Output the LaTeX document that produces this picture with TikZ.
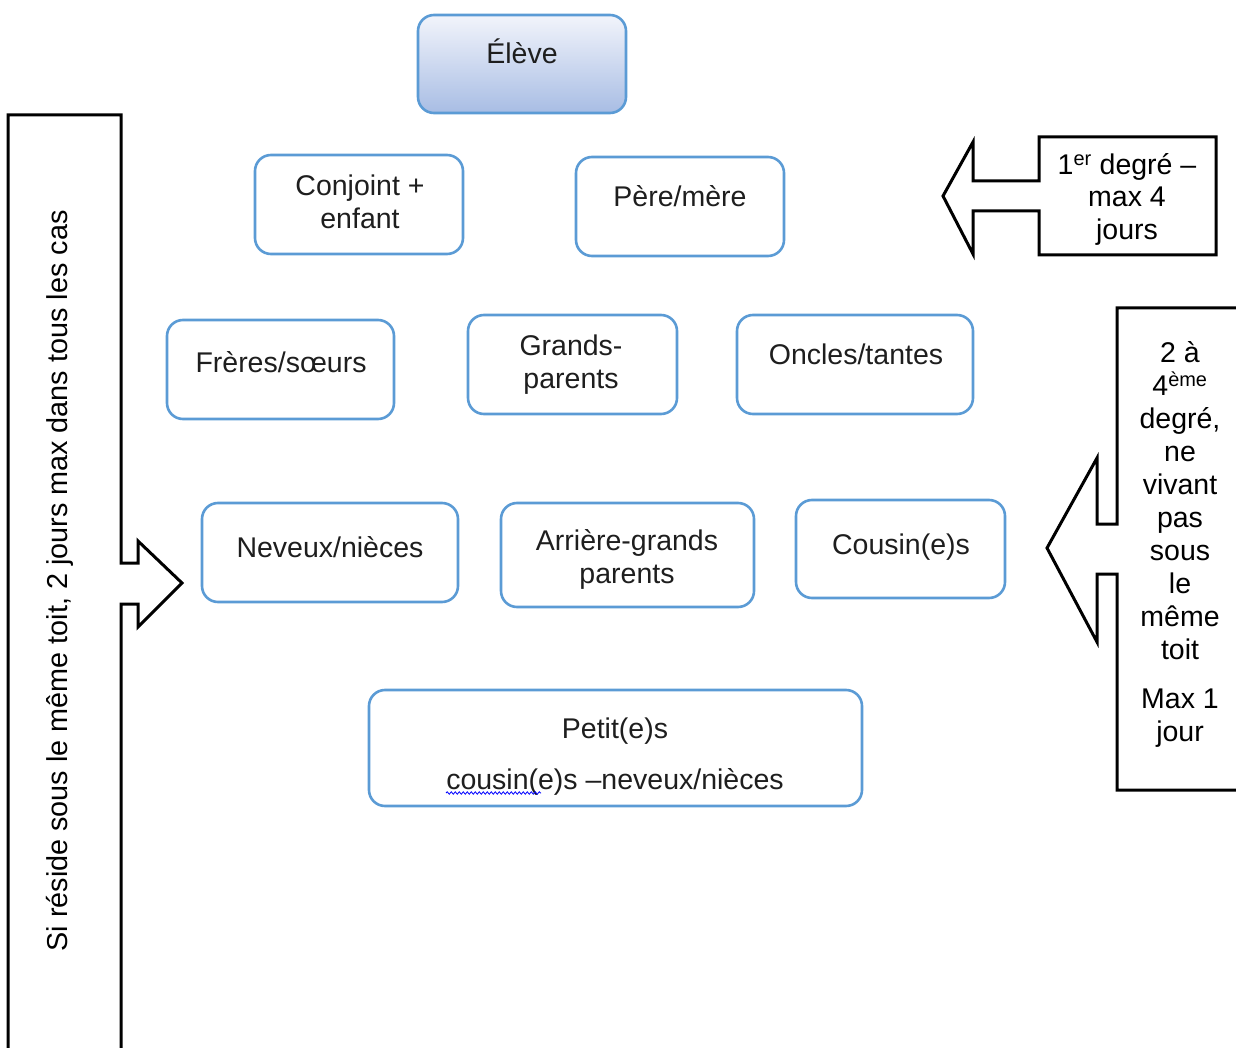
\documentclass[tikz,border=0pt]{standalone}
\usepackage{fontspec}
\setmainfont{Liberation Sans}
\usetikzlibrary{decorations.pathmorphing}
\definecolor{boxblue}{RGB}{91,155,213}
\definecolor{gradtop}{RGB}{242,244,251}
\definecolor{gradbot}{RGB}{168,189,228}
\definecolor{txt}{RGB}{30,30,30}
\tikzset{
  famillebox/.style={draw=boxblue, line width=2.6pt, rounded corners=16pt, fill=white, inner sep=0pt},
  lbl/.style={font=\fontsize{28.5}{33}\selectfont, text=txt, align=center, inner sep=0pt},
  callout/.style={draw=black, line width=3pt, line join=miter, fill=white}
}
\begin{document}
\begin{tikzpicture}[x=1pt,y=-1pt]
\useasboundingbox (0,0) rectangle (1236,1048);
\clip (0,0) rectangle (1236,1048);

% boxes
\node[famillebox, top color=gradtop, bottom color=gradbot, minimum width=208pt, minimum height=98pt] (eleve) at (522,64) {};
\node[famillebox, minimum width=208pt, minimum height=99pt] (conj) at (359,204.5) {};
\node[famillebox, minimum width=208pt, minimum height=99pt] (pere) at (680,206.5) {};
\node[famillebox, minimum width=227pt, minimum height=99pt] (freres) at (280.5,369.5) {};
\node[famillebox, minimum width=209pt, minimum height=99pt] (grands) at (572.5,364.5) {};
\node[famillebox, minimum width=236pt, minimum height=99pt] (oncles) at (855,364.5) {};
\node[famillebox, minimum width=256pt, minimum height=99pt] (neveux) at (330,552.5) {};
\node[famillebox, minimum width=253pt, minimum height=104pt] (arriere) at (627.5,555) {};
\node[famillebox, minimum width=209pt, minimum height=98pt] (cousin) at (900.5,549) {};
\node[famillebox, minimum width=493pt, minimum height=116pt] (petit) at (615.5,748) {};

% box texts
\node[lbl, anchor=base] (televe) at (522,64) {Élève};
\node[lbl] (tconj) at (360,201.5) {Conjoint +\\enfant};
\node[lbl, anchor=base] (tpere) at (680,206.5) {Père/mère};
\node[lbl, anchor=base] (tfreres) at (281,372) {Frères/sœurs};
\node[lbl] (tgrands) at (571,364.5) {Grands-\\parents};
\node[lbl, anchor=base] (toncles) at (856,364) {Oncles/tantes};
\node[lbl, anchor=base] (tneveux) at (330,557) {Neveux/nièces};
\node[lbl] (tarriere) at (627,559.5) {Arrière-grands\\parents};
\node[lbl, anchor=base] (tcousin) at (901,554) {Cousin(e)s};
\node[lbl] (tpetit) at (615,756.5) {Petit(e)s\\[18pt]cousin(e)s –neveux/nièces};
\draw[blue, line width=0.8pt, decorate, decoration={snake, amplitude=1.2pt, segment length=4pt}] (446,793) -- (541,793);

% top right callout
\draw[callout] (1039,137) -- (1216,137) -- (1216,255) -- (1039,255) -- (1039,211) -- (973,211) -- (973,254) -- (943,196) -- (973,142) -- (973,181) -- (1039,181) -- cycle;
\node[lbl, text=black] (tdeg1) at (1127,199.5) {1\textsuperscript{er} degré –\\[-1pt]max 4\\jours};

% right callout
\draw[callout] (1250,308) -- (1117,308) -- (1117,524) -- (1097,524) -- (1097,458) -- (1047,548) -- (1097,642) -- (1097,574) -- (1117,574) -- (1117,790) -- (1250,790);
\node[lbl, text=black] (tdeg2) at (1180,544) {2 à\\4\textsuperscript{ème}\\degré,\\ne\\vivant\\pas\\sous\\le\\même\\toit\\[16pt]Max 1\\jour};

% left callout
\draw[callout] (8,1060) -- (8,115) -- (121,115) -- (121,563) -- (138,563) -- (138,541) -- (182,583) -- (138,627) -- (138,604) -- (121,604) -- (121,1060);
\node[lbl, text=black, rotate=90, font=\fontsize{28.8}{33}\selectfont] (tleft) at (59.5,581) {Si réside sous le même toit, 2 jours max dans tous les cas};
\end{tikzpicture}
\end{document}
